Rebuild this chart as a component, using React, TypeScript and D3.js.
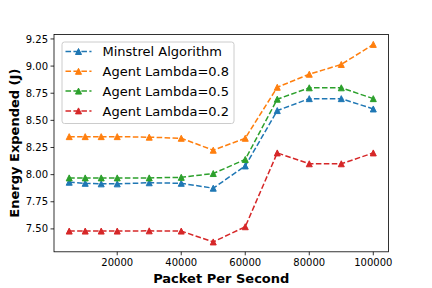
import React from "react";
import * as d3 from "d3";

const packets = [5000, 10000, 15000, 20000, 30000, 40000, 50000, 60000, 70000, 80000, 90000, 100000];
const minstrel = [7.93, 7.92, 7.915, 7.915, 7.925, 7.92, 7.875, 8.08, 8.59, 8.70, 8.70, 8.605];
const lambda08 = [8.35, 8.35, 8.35, 8.35, 8.345, 8.335, 8.225, 8.335, 8.805, 8.925, 9.015, 9.2];
const lambda05 = [7.97, 7.97, 7.97, 7.97, 7.97, 7.975, 8.01, 8.14, 8.695, 8.80, 8.80, 8.70];
const lambda02 = [7.48, 7.48, 7.48, 7.48, 7.482, 7.48, 7.38, 7.52, 8.20, 8.10, 8.10, 8.20];
const seriesNames = ["Minstrel Algorithm", "Agent Lambda=0.8", "Agent Lambda=0.5", "Agent Lambda=0.2"];
const seriesColors = ["#1f77b4", "#ff7f0e", "#2ca02c", "#d62728"];
const xTicks = [20000, 40000, 60000, 80000, 100000];
const yTicks = [7.5, 7.75, 8.0, 8.25, 8.5, 8.75, 9.0, 9.25];
const xLabel = "Packet Per Second";
const yLabel = "Energy Expended (J)";

const W = 432, H = 288;
const L = 54, R = 388.5, T = 34.5, B = 251.8;
const FONT = "DejaVu Sans, sans-serif";

function tri(cx: number, cy: number, s = 3) {
  return `M${cx},${cy - s}L${cx - s},${cy + s}L${cx + s},${cy + s}Z`;
}

export default function App() {
  const allSeries = [minstrel, lambda08, lambda05, lambda02];
  const xMin = d3.min(packets)!, xMax = d3.max(packets)!;
  const xPad = (xMax - xMin) * 0.05;
  const allY = allSeries.flat();
  const yMin = d3.min(allY)!, yMax = d3.max(allY)!;
  const yPad = (yMax - yMin) * 0.05;
  const x = d3.scaleLinear().domain([xMin - xPad, xMax + xPad]).range([L, R]);
  const y = d3.scaleLinear().domain([yMin - yPad, yMax + yPad]).range([B, T]);
  const line = d3.line<number>().x((_, i) => x(packets[i])).y((d) => y(d));

  return (
    <svg width={W} height={H} style={{ position: "absolute", left: 0, top: 0, background: "#fff" }} fontFamily={FONT}>
      <rect x={0} y={0} width={W} height={H} fill="#fff" />
      {allSeries.map((s, si) => (
        <g key={si}>
          <path d={line(s)!} fill="none" stroke={seriesColors[si]} strokeWidth={1.5} strokeDasharray="5.55,2.4" />
          {s.map((v, i) => (
            <path key={i} d={tri(x(packets[i]), y(v))} fill={seriesColors[si]} stroke={seriesColors[si]} strokeWidth={1} strokeLinejoin="miter" />
          ))}
        </g>
      ))}
      {/* spines */}
      <rect x={L} y={T} width={R - L} height={B - T} fill="none" stroke="#000" strokeWidth={0.8} />
      {/* x ticks */}
      {xTicks.map((t) => (
        <g key={t}>
          <line x1={x(t)} x2={x(t)} y1={B} y2={B + 3.5} stroke="#000" strokeWidth={0.8} />
          <text x={x(t)} y={B + 14.5} fontSize={10} textAnchor="middle" fill="#000">{t}</text>
        </g>
      ))}
      {/* y ticks */}
      {yTicks.map((t) => (
        <g key={t}>
          <line x1={L - 3.5} x2={L} y1={y(t)} y2={y(t)} stroke="#000" strokeWidth={0.8} />
          <text x={L - 6} y={y(t) + 3.6} fontSize={10} textAnchor="end" fill="#000">{t.toFixed(2)}</text>
        </g>
      ))}
      <text x={(L + R) / 2} y={283} fontSize={13} fontWeight="bold" textAnchor="middle" fill="#000">{xLabel}</text>
      <text transform={`translate(18.8,${(T + B) / 2}) rotate(-90)`} fontSize={13} fontWeight="bold" textAnchor="middle" fill="#000">{yLabel}</text>
      {/* legend */}
      <g>
        <rect x={62} y={42} width={172} height={81.5} rx={2.5} fill="#fff" fillOpacity={0.8} stroke="#ccc" strokeWidth={1} />
        {seriesNames.map((n, i) => {
          const cy = 51.5 + i * 19.8;
          return (
            <g key={n}>
              <line x1={65.5} x2={91.5} y1={cy} y2={cy} stroke={seriesColors[i]} strokeWidth={1.5} strokeDasharray="5.55,2.4" />
              <path d={tri(78.5, cy)} fill={seriesColors[i]} stroke={seriesColors[i]} strokeWidth={1} />
              <text x={102.5} y={cy + 4.8} fontSize={13} fill="#000">{n}</text>
            </g>
          );
        })}
      </g>
    </svg>
  );
}
